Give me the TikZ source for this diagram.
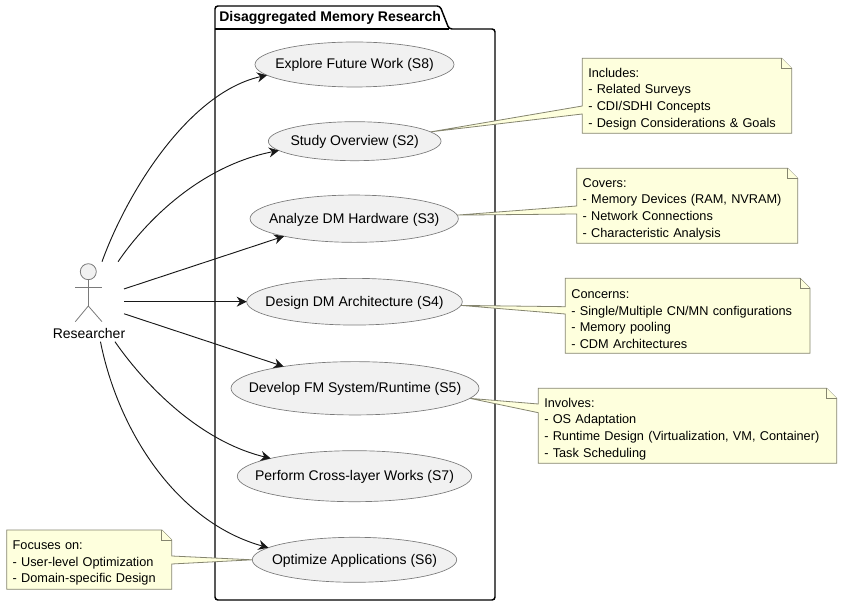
\documentclass[tikz,border=0pt]{standalone}
\usepackage{fontspec}
\setmainfont{Liberation Sans}
\usetikzlibrary{arrows.meta,calc,shapes.geometric,backgrounds}
\definecolor{ucfill}{HTML}{F1F1F1}
\definecolor{ucline}{HTML}{7A7A7A}
\definecolor{notefill}{HTML}{FEFFDD}
\definecolor{noteline}{HTML}{85856F}
\definecolor{inkc}{HTML}{181818}
\tikzset{
  x=0.75pt,y=-0.75pt,
  usecase/.style={ellipse,draw=ucline,fill=ucfill,line width=0.5pt,inner sep=0pt,outer sep=0pt},
  uctext/.style={inner sep=0pt,yshift=-0.6pt,font=\fontsize{10.5}{12}\selectfont,text=black},
  notebox/.style={rectangle,inner sep=0pt,outer sep=0pt,anchor=north west,
    font=\fontsize{9.55}{12.4}\selectfont,align=left,text=black},
  noteshape/.style={draw=noteline,fill=notefill,line width=0.6pt,line join=miter},
  link/.style={draw=inkc,line width=0.7pt,-{Stealth[length=7.5pt,width=7.5pt,inset=2.5pt]}},
  actorline/.style={draw=ucline,line width=0.6pt},
  frameline/.style={draw=black,line width=1.1pt,rounded corners=2.2pt},
}
\newcommand{\notetop}{\rule{0pt}{11.6pt}}
\newcommand{\westnote}[4]{%
  \path[noteshape] (#1.north west) -- ($(#1.north east)+(-10,0)$) -- ($(#1.north east)+(0,10)$)
    -- (#1.south east) -- (#1.south west) -- ($(#1.north west)+(0,#4)$) -- (#2)
    -- ($(#1.north west)+(0,#3)$) -- cycle;
  \path[noteshape] ($(#1.north east)+(-10,0)$) -- ($(#1.north east)+(-10,10)$) -- ($(#1.north east)+(0,10)$);}
\newcommand{\eastnote}[4]{%
  \path[noteshape] (#1.north west) -- ($(#1.north east)+(-10,0)$) -- ($(#1.north east)+(0,10)$)
    -- ($(#1.north east)+(0,#3)$) -- (#2) -- ($(#1.north east)+(0,#4)$)
    -- (#1.south east) -- (#1.south west) -- cycle;
  \path[noteshape] ($(#1.north east)+(-10,0)$) -- ($(#1.north east)+(-10,10)$) -- ($(#1.north east)+(0,10)$);}
\begin{document}
\begin{tikzpicture}
\useasboundingbox (0,0) rectangle (842,605);

% use cases
\node[usecase,minimum width=199*0.75pt,minimum height=45*0.75pt,label={[uctext]center:Explore Future Work (S8)}] (s8) at (354.5,64.5) {};
\node[usecase,minimum width=172.7*0.75pt,minimum height=39*0.75pt,label={[uctext]center:Study Overview (S2)}] (s2) at (354.7,141.2) {};
\node[usecase,minimum width=208.3*0.75pt,minimum height=47.3*0.75pt,label={[uctext]center:Analyze DM Hardware (S3)}] (s3) at (354.2,218.7) {};
\node[usecase,minimum width=215.6*0.75pt,minimum height=46.7*0.75pt,label={[uctext]center:Design DM Architecture (S4)}] (s4) at (354.5,301.7) {};
\node[usecase,minimum width=248*0.75pt,minimum height=53.3*0.75pt,label={[uctext]center:Develop FM System/Runtime (S5)}] (s5) at (355,388.3) {};
\node[usecase,minimum width=234.4*0.75pt,minimum height=51*0.75pt,label={[uctext]center:Perform Cross-layer Works (S7)}] (s7) at (354.5,476.2) {};
\node[usecase,minimum width=204.4*0.75pt,minimum height=45*0.75pt,label={[uctext]center:Optimize Applications (S6)}] (s6) at (354.5,559.8) {};

% notes (text; outlines go on the background layer)
\node[notebox,minimum width=209.4*0.75pt,minimum height=75*0.75pt,text width=197.4*0.75pt] (n1) at (582.3,58.3)
  {\notetop Includes:\\- Related Surveys\\- CDI/SDHI Concepts\\- Design Considerations \& Goals};
\node[notebox,minimum width=221*0.75pt,minimum height=75*0.75pt,text width=209*0.75pt] (n2) at (576.7,168.3)
  {\notetop Covers:\\- Memory Devices (RAM, NVRAM)\\- Network Connections\\- Characteristic Analysis};
\node[notebox,minimum width=244.7*0.75pt,minimum height=75*0.75pt,text width=232.7*0.75pt] (n3) at (565.3,278.3)
  {\notetop Concerns:\\- Single/Multiple CN/MN configurations\\- Memory pooling\\- CDM Architectures};
\node[notebox,minimum width=298.4*0.75pt,minimum height=75*0.75pt,text width=286.4*0.75pt] (n4) at (538.3,388.3)
  {\notetop Involves:\\- OS Adaptation\\- Runtime Design (Virtualization, VM, Container)\\- Task Scheduling};
\node[notebox,minimum width=165*0.75pt,minimum height=59.3*0.75pt,text width=153*0.75pt] (n5) at (6.7,530)
  {\notetop Focuses on:\\- User-level Optimization\\- Domain-specific Design};

% package title
\node[font=\bfseries\fontsize{10.5}{12}\selectfont,anchor=west,inner sep=0pt] (pkg) at (219,18) {Disaggregated Memory Research};

\begin{scope}[on background layer]
  \path[frameline] (215,600) -- (215,6) -- (440,6) -- (449,29) -- (495,29) -- (495,600) -- cycle;
  \path[draw=black,line width=1.1pt] (215,29) -- (449,29);
  \westnote{n1}{s2.7.9}{47.7}{55.7}
  \westnote{n2}{s3.2.6}{37.7}{45.7}
  \westnote{n3}{s4.-2.3}{28.4}{35.7}
  \westnote{n4}{s5.-5.7}{15.7}{24.4}
  \eastnote{n5}{s6.180}{26}{34}
\end{scope}

% actor
\node[rectangle,inner sep=0pt,outer sep=0pt,minimum width=70*0.75pt,minimum height=80*0.75pt] (actor) at (89,301.7) {};
\node[circle,draw=ucline,fill=ucfill,line width=0.6pt,minimum size=16*0.75pt,inner sep=0pt,outer sep=0pt] (head) at (88.3,271.7) {};
\coordinate (hip) at (88.3,306);
\path[actorline] (head.south) -- (hip);
\path[actorline] (75,287.3) -- (101.7,287.3);
\path[actorline] (75.3,321.7) -- (hip) -- (102,321.7);
\node[inner sep=0pt,font=\fontsize{10.5}{12}\selectfont] (reslabel) at (89,333) {Researcher};

% connectors
\draw[link] (actor.72) .. controls (128,190) and (190,92) .. (s8.187.1);
\draw[link] (actor.54.7) .. controls (150,215) and (205,165) .. (s2.187.4);
\draw[link] (actor.20.8) -- (s3.194.4);
\draw[link] (actor.0) -- (s4.180);
\draw[link] (actor.-19.7) -- (s5.163.9);
\draw[link] (actor.-57) .. controls (140,378) and (195,440) .. (s7.168.3);
\draw[link] (actor.-74.6) .. controls (118,430) and (176,522) .. (s6.172);
\end{tikzpicture}
\end{document}
